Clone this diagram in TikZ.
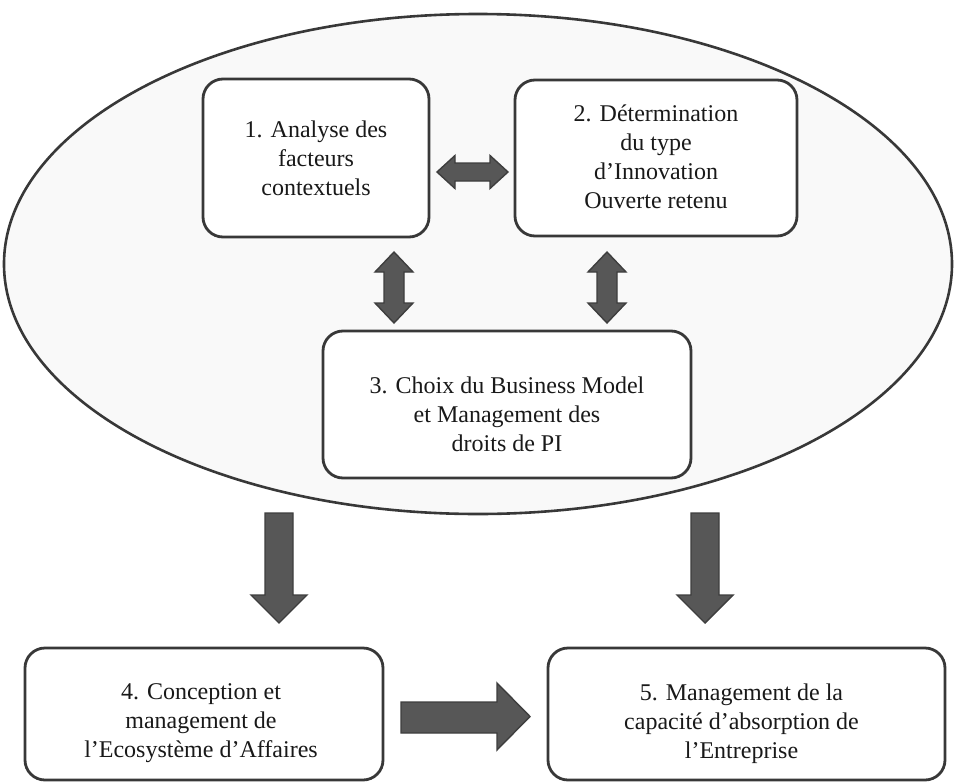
\documentclass[tikz,border=0pt]{standalone}
\usepackage{fontspec}
\setmainfont{Liberation Serif}
\usetikzlibrary{shapes.geometric}
\definecolor{edgec}{HTML}{383838}
\definecolor{arrowfill}{HTML}{575757}
\definecolor{arrowedge}{HTML}{3E3E3E}
\definecolor{ovalfill}{HTML}{F9F9F9}
\begin{document}
\begin{tikzpicture}[x=1pt,y=-1pt,
  boxnode/.style={draw=edgec, line width=2.8pt, fill=white, rounded corners=20pt, inner sep=0pt},
  txt/.style={font=\fontsize{24}{29}\selectfont, align=center, inner sep=0pt, text=black!90},
  blockarrow/.style={fill=arrowfill, draw=arrowedge, line width=1.4pt, line join=miter},
  pics/vdbl/.style={code={
    \draw[blockarrow] (0,-35.5) -- (19,-15.5) -- (10,-15.5) -- (10,15.5) -- (19,15.5) -- (0,35.5)
      -- (-19,15.5) -- (-10,15.5) -- (-10,-15.5) -- (-19,-15.5) -- cycle;}},
  pics/downarrow/.style={code={
    \draw[blockarrow] (-14,0) -- (14,0) -- (14,82) -- (28,82) -- (0,110) -- (-28,82) -- (-14,82) -- cycle;}}
]
\useasboundingbox (0,0) rectangle (954,782);

% enclosing oval
\node (oval) [ellipse, draw=edgec, line width=2.6pt, fill=ovalfill, minimum width=948pt, minimum height=500pt, inner sep=0pt] at (478,264) {};

% boxes
\node (b1) [boxnode, minimum width=226pt, minimum height=158pt] at (316,158) {};
\node (b2) [boxnode, minimum width=282pt, minimum height=156pt] at (656,158) {};
\node (b3) [boxnode, minimum width=368pt, minimum height=147pt] at (507,404.5) {};
\node (b4) [boxnode, minimum width=358pt, minimum height=132pt] at (204,714) {};
\node (b5) [boxnode, minimum width=397pt, minimum height=132pt] at (746.5,714) {};

% texts
\node (t1) [txt] at (316,157.8) {1. Analyse des\\facteurs\\contextuels};
\node (t2) [txt] at (656,156.3) {2. Détermination\\du type\\d’Innovation\\Ouverte retenu};
\node (t3) [txt] at (507,413.8) {3. Choix du Business Model\\et Management des\\droits de PI};
\node (t4) [txt] at (201,723.4) {4. Conception et\\management de\\l’Ecosystème d’Affaires};
\node (t5) [txt] at (741.5,723.4) {5. Management de la\\capacité d’absorption de\\l’Entreprise};

% horizontal double arrow between 1 and 2
\draw[blockarrow] (437,172) -- (455,155.5) -- (455,163) -- (490,163) -- (490,155.5) -- (508,172)
  -- (490,188.5) -- (490,181) -- (455,181) -- (455,188.5) -- cycle;

% vertical double arrows
\pic at (394,287.5) {vdbl};
\pic at (607,287.5) {vdbl};

% down arrows
\pic at (279,513) {downarrow};
\pic at (705,513) {downarrow};

% right arrow between 4 and 5
\draw[blockarrow] (401,702) -- (497,702) -- (497,683) -- (530,716.5) -- (497,750) -- (497,733) -- (401,733) -- cycle;
\end{tikzpicture}
\end{document}
